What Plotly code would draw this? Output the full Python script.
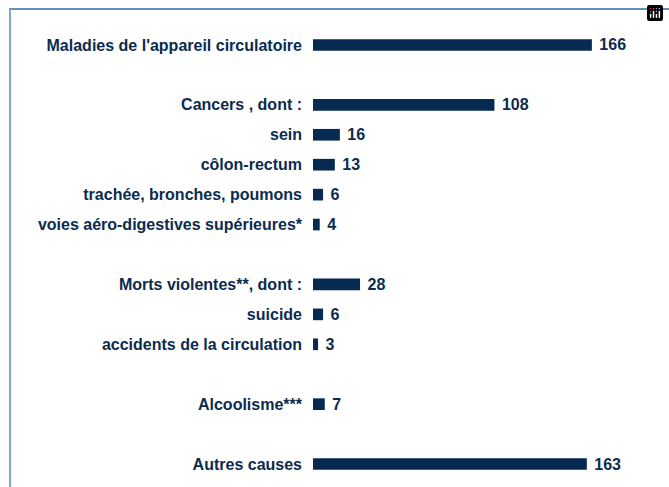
import plotly.graph_objects as go

categories = [
    "Maladies de l'appareil circulatoire",
    " ",
    "Cancers , dont :",
    "sein",
    "côlon-rectum",
    "trachée, bronches, poumons",
    "voies aéro-digestives supérieures*",
    "  ",
    "Morts violentes**, dont :",
    "suicide",
    "accidents de la circulation",
    "   ",
    "Alcoolisme***",
    "    ",
    "Autres causes",
]
values = [166, None, 108, 16, 13, 6, 4, None, 28, 6, 3, None, 7, None, 163]

FONT = "Liberation Sans, Arial, sans-serif"
NAVY = "#072a53"
TXT = "#0b2b50"

fig = go.Figure(
    go.Bar(
        x=values,
        y=categories,
        orientation="h",
        marker=dict(color=NAVY, line=dict(width=0)),
        width=0.39,
        texttemplate="\u00a0%{x}",
        textposition="outside",
        constraintext="none",
        textfont=dict(family=FONT, size=16, color=TXT, weight="bold"),
        cliponaxis=False,
        hoverinfo="skip",
    )
)

W, H = 669, 487
L, R, T, B = 313, 20, 30, 8
pw = W - L - R
ph = H - T - B

fig.update_layout(
    width=W,
    height=H,
    margin=dict(l=L, r=R, t=T, b=B, autoexpand=False),
    paper_bgcolor="white",
    plot_bgcolor="white",
    showlegend=False,
    font=dict(family=FONT, size=16, color=TXT, weight="bold"),
    modebar=dict(bgcolor="rgba(0,0,0,0)", color="rgba(0,0,0,0)",
                 activecolor="rgba(0,0,0,0)"),
    xaxis=dict(range=[0, 200], visible=False, fixedrange=True),
    yaxis=dict(
        autorange="reversed",
        showgrid=False,
        zeroline=False,
        showline=False,
        ticks="",
        ticklabelstandoff=10,
        tickfont=dict(family=FONT, size=16, color=TXT, weight="bold"),
        fixedrange=True,
    ),
    shapes=[
        dict(type="line", xref="paper", yref="paper",
             x0=(9 - L) / pw, x1=(W + 5 - L) / pw,
             y0=1 + (T - 9) / ph, y1=1 + (T - 9) / ph,
             line=dict(color="#2e6aa8", width=1.5)),
        dict(type="line", xref="paper", yref="paper",
             x0=(10 - L) / pw, x1=(10 - L) / pw,
             y0=1 + (T - 9) / ph, y1=-(B + 5) / ph,
             line=dict(color="#7fa8d0", width=2)),
    ],
)

fig.write_html(
    "out.html",
    post_script="document.body.style.margin='0px';document.body.style.overflow='hidden';",
)
